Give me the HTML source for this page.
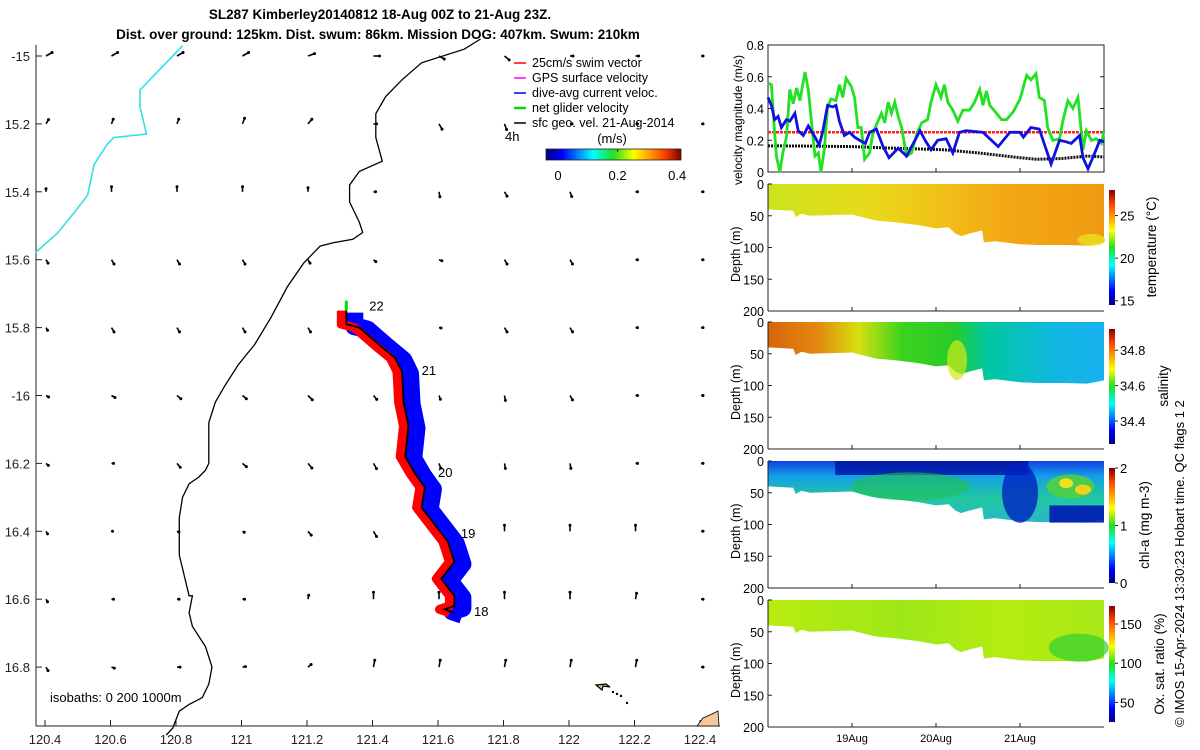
<!DOCTYPE html>
<html><head><meta charset="utf-8">
<style>
body{margin:0;background:#fff;}
svg{display:block;font-family:"Liberation Sans","DejaVu Sans",sans-serif;}
</style></head>
<body>
<svg id="fig" width="1200" height="750" viewBox="0 0 1200 750" xmlns="http://www.w3.org/2000/svg">
<defs>
<linearGradient id="jetH" x1="0" x2="1" y1="0" y2="0">
<stop offset="0" stop-color="#000080"/><stop offset="0.12" stop-color="#0000ff"/><stop offset="0.35" stop-color="#00ffff"/><stop offset="0.5" stop-color="#20e020"/><stop offset="0.65" stop-color="#ffff00"/><stop offset="0.88" stop-color="#ff4000"/><stop offset="1" stop-color="#800000"/></linearGradient>
<linearGradient id="jetV" x1="0" x2="0" y1="1" y2="0">
<stop offset="0" stop-color="#000080"/><stop offset="0.12" stop-color="#0000ff"/><stop offset="0.35" stop-color="#00ffff"/><stop offset="0.5" stop-color="#20e020"/><stop offset="0.65" stop-color="#ffff00"/><stop offset="0.88" stop-color="#ff4000"/><stop offset="1" stop-color="#800000"/></linearGradient>
<linearGradient id="gTemp" x1="0" x2="1"><stop offset="0" stop-color="#cbe41c"/><stop offset="0.3" stop-color="#e8da1a"/><stop offset="0.55" stop-color="#f2bc18"/><stop offset="0.7" stop-color="#f3a814"/><stop offset="1" stop-color="#f09a12"/></linearGradient>
<linearGradient id="gSal" x1="0" x2="1"><stop offset="0" stop-color="#d8650a"/><stop offset="0.15" stop-color="#e28a10"/><stop offset="0.27" stop-color="#d6e010"/><stop offset="0.4" stop-color="#3cd21e"/><stop offset="0.55" stop-color="#28cc28"/><stop offset="0.65" stop-color="#00c8a0"/><stop offset="0.85" stop-color="#10b8e0"/><stop offset="1" stop-color="#18b0f0"/></linearGradient>
<linearGradient id="gChl" x1="0" x2="0" y1="0" y2="1"><stop offset="0" stop-color="#1040e0"/><stop offset="0.25" stop-color="#14a0e8"/><stop offset="0.6" stop-color="#20c8a0"/><stop offset="1" stop-color="#28b8c8"/></linearGradient>
<linearGradient id="gOx" x1="0" x2="1"><stop offset="0" stop-color="#b8ec10"/><stop offset="0.4" stop-color="#9ee818"/><stop offset="0.7" stop-color="#b4ec10"/><stop offset="1" stop-color="#a8e818"/></linearGradient>
</defs>
<g id="titles">
<text x="380" y="19" font-size="13.5" font-weight="bold" text-anchor="middle">SL287 Kimberley20140812 18-Aug 00Z to 21-Aug 23Z.</text>
<text x="378" y="39" font-size="13.5" font-weight="bold" text-anchor="middle">Dist. over ground: 125km. Dist. swum: 86km. Mission DOG: 407km. Swum: 210km</text>
</g>
<g id="map"></g>
<g id="vel"></g>
<g id="sections"></g>
<text transform="translate(1184,727) rotate(-90)" font-size="13">© IMOS 15-Apr-2024 13:30:23 Hobart time. QC flags 1  2</text>
</svg>
<script>
const NS="http://www.w3.org/2000/svg";
function mk(tag,attrs,parent,txt){const e=document.createElementNS(NS,tag);for(const k in attrs)e.setAttribute(k,attrs[k]);if(txt!==undefined)e.textContent=txt;parent.appendChild(e);return e;}

// ---------- data ----------
const lonTicks=[120.4,120.6,120.8,121,121.2,121.4,121.6,121.8,122,122.2,122.4];
const lonLabels=["120.4","120.6","120.8","121","121.2","121.4","121.6","121.8","122","122.2","122.4"];
const latTicks=[-15,-15.2,-15.4,-15.6,-15.8,-16,-16.2,-16.4,-16.6,-16.8];
const latLabels=["-15","15.2","15.4","15.6","15.8","-16","16.2","16.4","16.6","16.8"];
const coastLon=[121.73,121.68,121.55,121.49,121.44,121.41,121.41,121.43,121.36,121.33,121.33,121.36,121.37,121.34,121.28,121.24,121.19,121.14,121.09,121.04,120.99,120.95,120.92,120.90,120.90,120.89,120.87,120.84,120.82,120.81,120.81,120.84,120.85,120.84,120.85,120.89,120.91,120.90,120.88,120.84,120.81,120.79,120.77];
const coastLat=[-14.95,-14.98,-15.02,-15.07,-15.12,-15.17,-15.24,-15.31,-15.34,-15.38,-15.43,-15.49,-15.52,-15.54,-15.55,-15.56,-15.61,-15.68,-15.77,-15.85,-15.91,-15.97,-16.02,-16.08,-16.2,-16.22,-16.24,-16.26,-16.3,-16.36,-16.47,-16.59,-16.59,-16.64,-16.68,-16.74,-16.8,-16.85,-16.89,-16.91,-16.93,-16.98,-17.0];
const isoLon=[120.82,120.76,120.69,120.69,120.71,120.61,120.59,120.55,120.53,120.49,120.44,120.37];
const isoLat=[-14.97,-15.03,-15.1,-15.15,-15.23,-15.24,-15.26,-15.32,-15.41,-15.46,-15.52,-15.58];
const trackLon=[121.32,121.32,121.36,121.42,121.47,121.49,121.495,121.51,121.50,121.53,121.56,121.55,121.59,121.63,121.65,121.61,121.65,121.65,121.62,121.65];
const trackLat=[-15.75,-15.79,-15.80,-15.85,-15.89,-15.93,-16.02,-16.09,-16.18,-16.23,-16.27,-16.33,-16.38,-16.43,-16.49,-16.54,-16.59,-16.62,-16.63,-16.64];
const dayLabels=["22","21","20","19","18"];
const dayLon=[121.39,121.55,121.6,121.67,121.71];
const dayLat=[-15.75,-15.94,-16.24,-16.42,-16.65];
const arrowAng=[
[30,30,30,30,20,0,-30,-40,0,0,0],
[60,70,70,70,50,0,-60,-70,0,0,0],
[90,90,90,90,90,0,-80,-60,-70,0,0],
[-60,-60,-60,-60,-60,-40,-20,-60,-60,0,0],
[-60,-60,-60,-60,-60,0,-10,-60,-60,0,0],
[-30,-30,-40,-40,-45,-50,-70,-80,-60,0,0],
[-40,0,-50,-40,-50,-60,-70,-80,-80,0,0],
[-60,0,-20,-30,-50,-60,90,90,90,90,0],
[-60,0,0,0,80,90,90,90,90,80,0],
[-60,-20,0,10,40,80,80,80,80,80,0]];
const arrowLen=[
[7,7,7,7,7,6,6,6,3,3,2],
[5,5,5,6,6,3,6,6,2,2,2],
[3,5,5,5,4,2,5,5,5,2,2],
[4,5,5,5,4,3,3,5,5,2,2],
[3,5,5,5,5,2,2,5,5,2,2],
[3,4,5,5,6,5,4,5,5,2,2],
[3,2,5,5,6,6,5,5,5,2,2],
[3,1,2,2,5,6,6,6,6,6,2],
[3,2,2,2,4,7,7,7,7,6,2],
[4,3,3,3,4,7,7,7,7,7,2]];

const gT=[0,.04,.08,.10,.14,.18,.22,.26,.30,.34,.38,.44,.48,.52,.56,.60,.63,.67,.71,.75,.81,.85,.89,.93,.99,1.03,1.07,1.11,1.15,1.21,1.25,1.31,1.35,1.39,1.43,1.47,1.51,1.55,1.59,1.65,1.71,1.77,1.83,1.90,1.94,2.00,2.06,2.10,2.14,2.20,2.26,2.32,2.40,2.46,2.52,2.56,2.60,2.64,2.72,2.78,2.84,2.92,3.00,3.08,3.13,3.19,3.23,3.29,3.33,3.39,3.47,3.51,3.57,3.63,3.69,3.75,3.79,3.85,3.91,3.97,4.0];
const gV=[.56,.55,.24,.1,0,.13,.22,.52,.43,.53,.45,.63,.52,.3,.1,.12,0,.14,.41,.46,.45,.55,.47,.59,.54,.47,.28,.28,.08,.12,.25,.32,.37,.31,.44,.37,.44,.35,.28,.1,.12,.24,.31,.33,.44,.55,.47,.55,.44,.39,.32,.39,.39,.44,.52,.42,.51,.42,.37,.33,.33,.38,.46,.61,.58,.62,.47,.45,.28,.2,.21,.32,.45,.4,.47,.14,.26,.2,.21,.18,.26];
const bT=[0,.04,.08,.12,.16,.22,.26,.32,.36,.42,.48,.56,.61,.65,.71,.77,.81,.85,.91,.97,1.03,1.09,1.16,1.21,1.29,1.37,1.44,1.55,1.65,1.73,1.81,1.87,1.94,2.02,2.12,2.20,2.28,2.36,2.56,2.74,2.88,3.00,3.04,3.13,3.23,3.37,3.47,3.55,3.61,3.71,3.75,3.81,3.89,3.95,4.0];
const bV=[.47,.42,.33,.35,.28,.33,.32,.37,.26,.23,.29,.22,.17,.25,.42,.41,.42,.32,.23,.25,.22,.2,.18,.25,.27,.16,.09,.15,.1,.18,.26,.2,.14,.2,.21,.12,.25,.26,.25,.16,.25,.25,.22,.28,.27,.05,.2,.19,.18,.23,.09,.02,.12,.2,.19];
const kT=[0,0.5,1.0,1.5,2.1,2.5,3.0,3.2,3.5,3.8,4.0];
const kV=[.165,.163,.16,.15,.14,.12,.09,.08,.085,.1,.095];
const rV=[.25,.25];
const velTicks=[0,0.2,0.4,0.6,0.8];
const velTickLabels=["0","0.2","0.4","0.6","0.8"];
const dateTicks=[1,2,3];
const dateLabels=["19Aug","20Aug","21Aug"];
const depthTicks=[0,50,100,150,200];
const botT=[0,0.3,0.33,0.4,0.5,1.0,1.2,1.3,1.5,1.8,2.0,2.15,2.23,2.3,2.4,2.55,2.57,2.7,3.0,3.2,3.5,3.8,4.0];
const botD=[40,42,52,47,50,48,55,58,60,65,70,68,78,82,78,73,92,90,95,96,96,97,92];
const cb1Ticks=[25,20,15];const cb2Ticks=[34.8,34.6,34.4];const cb3Ticks=[2,1,0];const cb4Ticks=[150,100,50];

// ---------- map ----------
const map=document.getElementById('map');
const lx=lon=>45+(lon-120.4)*327.5;
const ly=lat=>56+(-15-lat)*339.5;
let e=mk('line',{x1:36,y1:45,x2:36,y2:726,stroke:'#222','stroke-width':1},map);
e=mk('line',{x1:36,y1:726,x2:720,y2:726,stroke:'#222','stroke-width':1},map);
lonTicks.forEach((v,i)=>{const x=lx(v);mk('line',{x1:x,y1:726,x2:x,y2:720,stroke:'#222'},map);
 const t=mk('text',{x:x,y:744,'font-size':13,'text-anchor':'middle',fill:'#222'},map,lonLabels[i]);
 });
latTicks.forEach((v,i)=>{const y=ly(v);mk('line',{x1:36,y1:y,x2:42,y2:y,stroke:'#222'},map);
 const t=mk('text',{x:30,y:y+5,'font-size':13,'text-anchor':'end',fill:'#222'},map,latLabels[i]);
 });
function pl(lons,lats){return lons.map((v,i)=>lx(v).toFixed(1)+','+ly(lats[i]).toFixed(1)).join(' ');}
e=mk('polyline',{points:pl(coastLon,coastLat),fill:'none',stroke:'#000','stroke-width':1.3},map);

e=mk('polyline',{points:pl(isoLon,isoLat),fill:'none',stroke:'#33e0e8','stroke-width':1.6},map);

for(let r=0;r<latTicks.length;r++)for(let c=0;c<lonTicks.length;c++){
 const x=lx(lonTicks[c])+1,y=ly(latTicks[r]);const a=arrowAng[r][c]*Math.PI/180,L=arrowLen[r][c];
 const g=mk('g',{},map);
 mk('line',{x1:x,y1:y,x2:x+L*Math.cos(a),y2:y-L*Math.sin(a),stroke:'#000','stroke-width':1.6},g);
 mk('circle',{cx:x+L*Math.cos(a),cy:y-L*Math.sin(a),r:1.5,fill:'#000'},g);}
const tb=pl(trackLon,trackLat);
e=mk('polyline',{points:tb,fill:'none',stroke:'#0000ff','stroke-width':18,'stroke-linejoin':'round',transform:'translate(8,2)'},map);

e=mk('polyline',{points:tb,fill:'none',stroke:'#ff0000','stroke-width':9,'stroke-linejoin':'round',transform:'translate(-5,0)'},map);

e=mk('line',{x1:lx(trackLon[0]),y1:ly(trackLat[0]),x2:lx(trackLon[0]),y2:ly(trackLat[0])-10,stroke:'#00e000','stroke-width':3},map);

e=mk('polyline',{points:tb,fill:'none',stroke:'#000','stroke-width':1.8},map);

dayLabels.forEach((d,i)=>{const t=mk('text',{x:lx(dayLon[i]),y:ly(dayLat[i]),'font-size':13},map,d);});
e=mk('path',{d:'M596,685 L606,684 L610,687 L603,686 L602,690 Z',fill:'#d8b890',stroke:'#000','stroke-width':1.2},map);
[[613,692],[617,694],[621,696],[627,703]].forEach(p=>mk('circle',{cx:p[0],cy:p[1],r:1.2,fill:'#000'},map));
e=mk('path',{d:'M697,726 L703,718 L712,714 L718,711 L719,726 Z',fill:'#f6c79a',stroke:'#000','stroke-width':0.8},map);
e=mk('text',{x:50,y:702,'font-size':13},map,'isobaths: 0   200   1000m');
e=mk('text',{x:505,y:141,'font-size':13},map,'4h');
const legItems=['25cm/s swim vector','GPS surface velocity','dive-avg current veloc.','net glider velocity','sfc geo. vel. 21-Aug-2014'];
const legCols=['#ff0000','#ff00ff','#0000ff','#00e000','#000000'];
const leg=mk('g',{},map);
legItems.forEach((s,i)=>{const y=67+15*i;const g=mk('g',{},leg);
 mk('line',{x1:514,y1:y-4,x2:526,y2:y-4,stroke:legCols[i],'stroke-width':i==3?2.5:1.5},g);
 mk('text',{x:532,y:y,'font-size':12.5},g,s);});
e=mk('rect',{x:546,y:149,width:135,height:11,fill:'url(#jetH)',stroke:'#222','stroke-width':0.8},map);
e=mk('text',{x:612,y:143,'font-size':13,'text-anchor':'middle'},map,'(m/s)');
[[0,'0'],[0.2,'0.2'],[0.4,'0.4']].forEach(p=>{const x=558+p[0]*298;mk('line',{x1:x,y1:149,x2:x,y2:152,stroke:'#222'},map);
 const t=mk('text',{x:x,y:180,'font-size':13,'text-anchor':'middle'},map,p[1]);});

// ---------- velocity panel ----------
const vel=document.getElementById('vel');
const X0=768,X1=1104;const tx=d=>X0+d*(X1-X0)/4;
const vy=v=>172-v*(172-45)/0.8;
e=mk('rect',{x:X0,y:45,width:X1-X0,height:127,fill:'none',stroke:'#222'},vel);
velTicks.forEach((v,i)=>{const y=vy(v);mk('line',{x1:X0,y1:y,x2:X0+4,y2:y,stroke:'#222'},vel);mk('line',{x1:X1,y1:y,x2:X1-4,y2:y,stroke:'#222'},vel);
 const t=mk('text',{x:764,y:y+5,'font-size':12.5,'text-anchor':'end'},vel,velTickLabels[i]);});
dateTicks.forEach(d=>{mk('line',{x1:tx(d),y1:172,x2:tx(d),y2:168,stroke:'#222'},vel);});
e=mk('text',{transform:'translate(742,185) rotate(-90)','font-size':12},vel,'velocity magnitude (m/s)');
function line(ts,vs){return ts.map((t,i)=>tx(t).toFixed(1)+','+vy(vs[i]).toFixed(1)).join(' ');}
e=mk('polyline',{points:line([0,4],rV),fill:'none',stroke:'#ff2020','stroke-width':2.5,'stroke-dasharray':'3,1'},vel);
e=mk('polyline',{points:line(kT,kV),fill:'none',stroke:'#111','stroke-width':3,'stroke-dasharray':'2,1'},vel);
e=mk('polyline',{points:line(gT,gV),fill:'none',stroke:'#22e022','stroke-width':2.8},vel);
e=mk('polyline',{points:line(bT,bV),fill:'none',stroke:'#1010e0','stroke-width':2.8},vel);

// ---------- sections ----------
const sec=document.getElementById('sections');
const panels=[{top:184,fill:'url(#gTemp)',name:'temperature-section',cb:[190,305],ticks:cb1Ticks,rng:[14.5,28],label:'temperature (°C)',lx:1156,ly:247},
{top:322,fill:'url(#gSal)',name:'salinity-section',cb:[329,444],ticks:cb2Ticks,rng:[34.27,34.92],label:'salinity',lx:1168,ly:386},
{top:461,fill:'url(#gChl)',name:'chl-a-section',cb:[468,583],ticks:cb3Ticks,rng:[0,2],label:'chl-a (mg m-3)',lx:1149,ly:525},
{top:600,fill:'url(#gOx)',name:'oxygen-section',cb:[606,722],ticks:cb4Ticks,rng:[25,173],label:'Ox. sat. ratio (%)',lx:1164,ly:664}];
panels.forEach((p,pi)=>{
 const g=mk('g',{},sec);
 const dy=d=>p.top+d*127/200;
 let pts=[tx(0)+','+dy(0),tx(4)+','+dy(0)];
 for(let i=botT.length-1;i>=0;i--)pts.push(tx(botT[i]).toFixed(1)+','+dy(botD[i]).toFixed(1));
 mk('polygon',{points:pts.join(' '),fill:p.fill},g);
 if(pi==0){mk('ellipse',{cx:tx(3.85),cy:dy(88),rx:14,ry:6,fill:'#e8e020',opacity:0.8},g);}
 if(pi==1){mk('ellipse',{cx:tx(2.25),cy:dy(60),rx:10,ry:20,fill:'#d0e818',opacity:0.7},g);}
 if(pi==2){
  mk('rect',{x:tx(0.8),y:dy(0),width:tx(3.1)-tx(0.8),height:14,fill:'#0010a0',opacity:0.8},g);
  mk('ellipse',{cx:tx(1.7),cy:dy(40),rx:60,ry:14,fill:'#20c050',opacity:0.6},g);
  mk('ellipse',{cx:tx(3.0),cy:dy(50),rx:18,ry:30,fill:'#0020c0',opacity:0.8},g);
  mk('rect',{x:tx(3.35),y:dy(70),width:tx(4)-tx(3.35),height:dy(97)-dy(70),fill:'#0018b0',opacity:0.9},g);
  mk('ellipse',{cx:tx(3.6),cy:dy(40),rx:24,ry:12,fill:'#50d040',opacity:0.9},g);
  mk('ellipse',{cx:tx(3.55),cy:dy(35),rx:7,ry:5,fill:'#f0e020'},g);
  mk('ellipse',{cx:tx(3.75),cy:dy(45),rx:8,ry:5,fill:'#f0d020'},g);}
 if(pi==3){mk('ellipse',{cx:tx(3.7),cy:dy(75),rx:30,ry:14,fill:'#30d030',opacity:0.7},g);}
 mk('line',{x1:X0,y1:p.top,x2:X0,y2:p.top+127,stroke:'#222'},g);
 mk('line',{x1:X0,y1:p.top+127,x2:X1,y2:p.top+127,stroke:'#222'},g);
 depthTicks.forEach(d=>{const y=dy(d);mk('line',{x1:X0,y1:y,x2:X0+4,y2:y,stroke:'#222'},g);
  const t=mk('text',{x:764,y:y+5,'font-size':12.5,'text-anchor':'end'},g,String(d));});
 dateTicks.forEach(d=>mk('line',{x1:tx(d),y1:p.top+127,x2:tx(d),y2:p.top+123,stroke:'#222'},g));
 const yt=mk('text',{transform:`translate(740,${p.top+98}) rotate(-90)`,'font-size':12.5},g,'Depth (m)');
 const cb=mk('rect',{x:1109,y:p.cb[0],width:6,height:p.cb[1]-p.cb[0],fill:'url(#jetV)'},g);
 p.ticks.forEach(v=>{const y=p.cb[1]-(v-p.rng[0])/(p.rng[1]-p.rng[0])*(p.cb[1]-p.cb[0]);
  mk('line',{x1:1115,y1:y,x2:1118,y2:y,stroke:'#222'},g);
  const t=mk('text',{x:1120,y:y+5,'font-size':13},g,String(v));});
 const lt=mk('text',{transform:`translate(${p.lx},${p.ly}) rotate(-90)`,'font-size':13.5,'text-anchor':'middle'},g,p.label);
});
dateTicks.forEach((d,i)=>{const t=mk('text',{x:tx(d),y:742,'font-size':11,'text-anchor':'middle'},sec,dateLabels[i]);});
</script>
</body></html>
